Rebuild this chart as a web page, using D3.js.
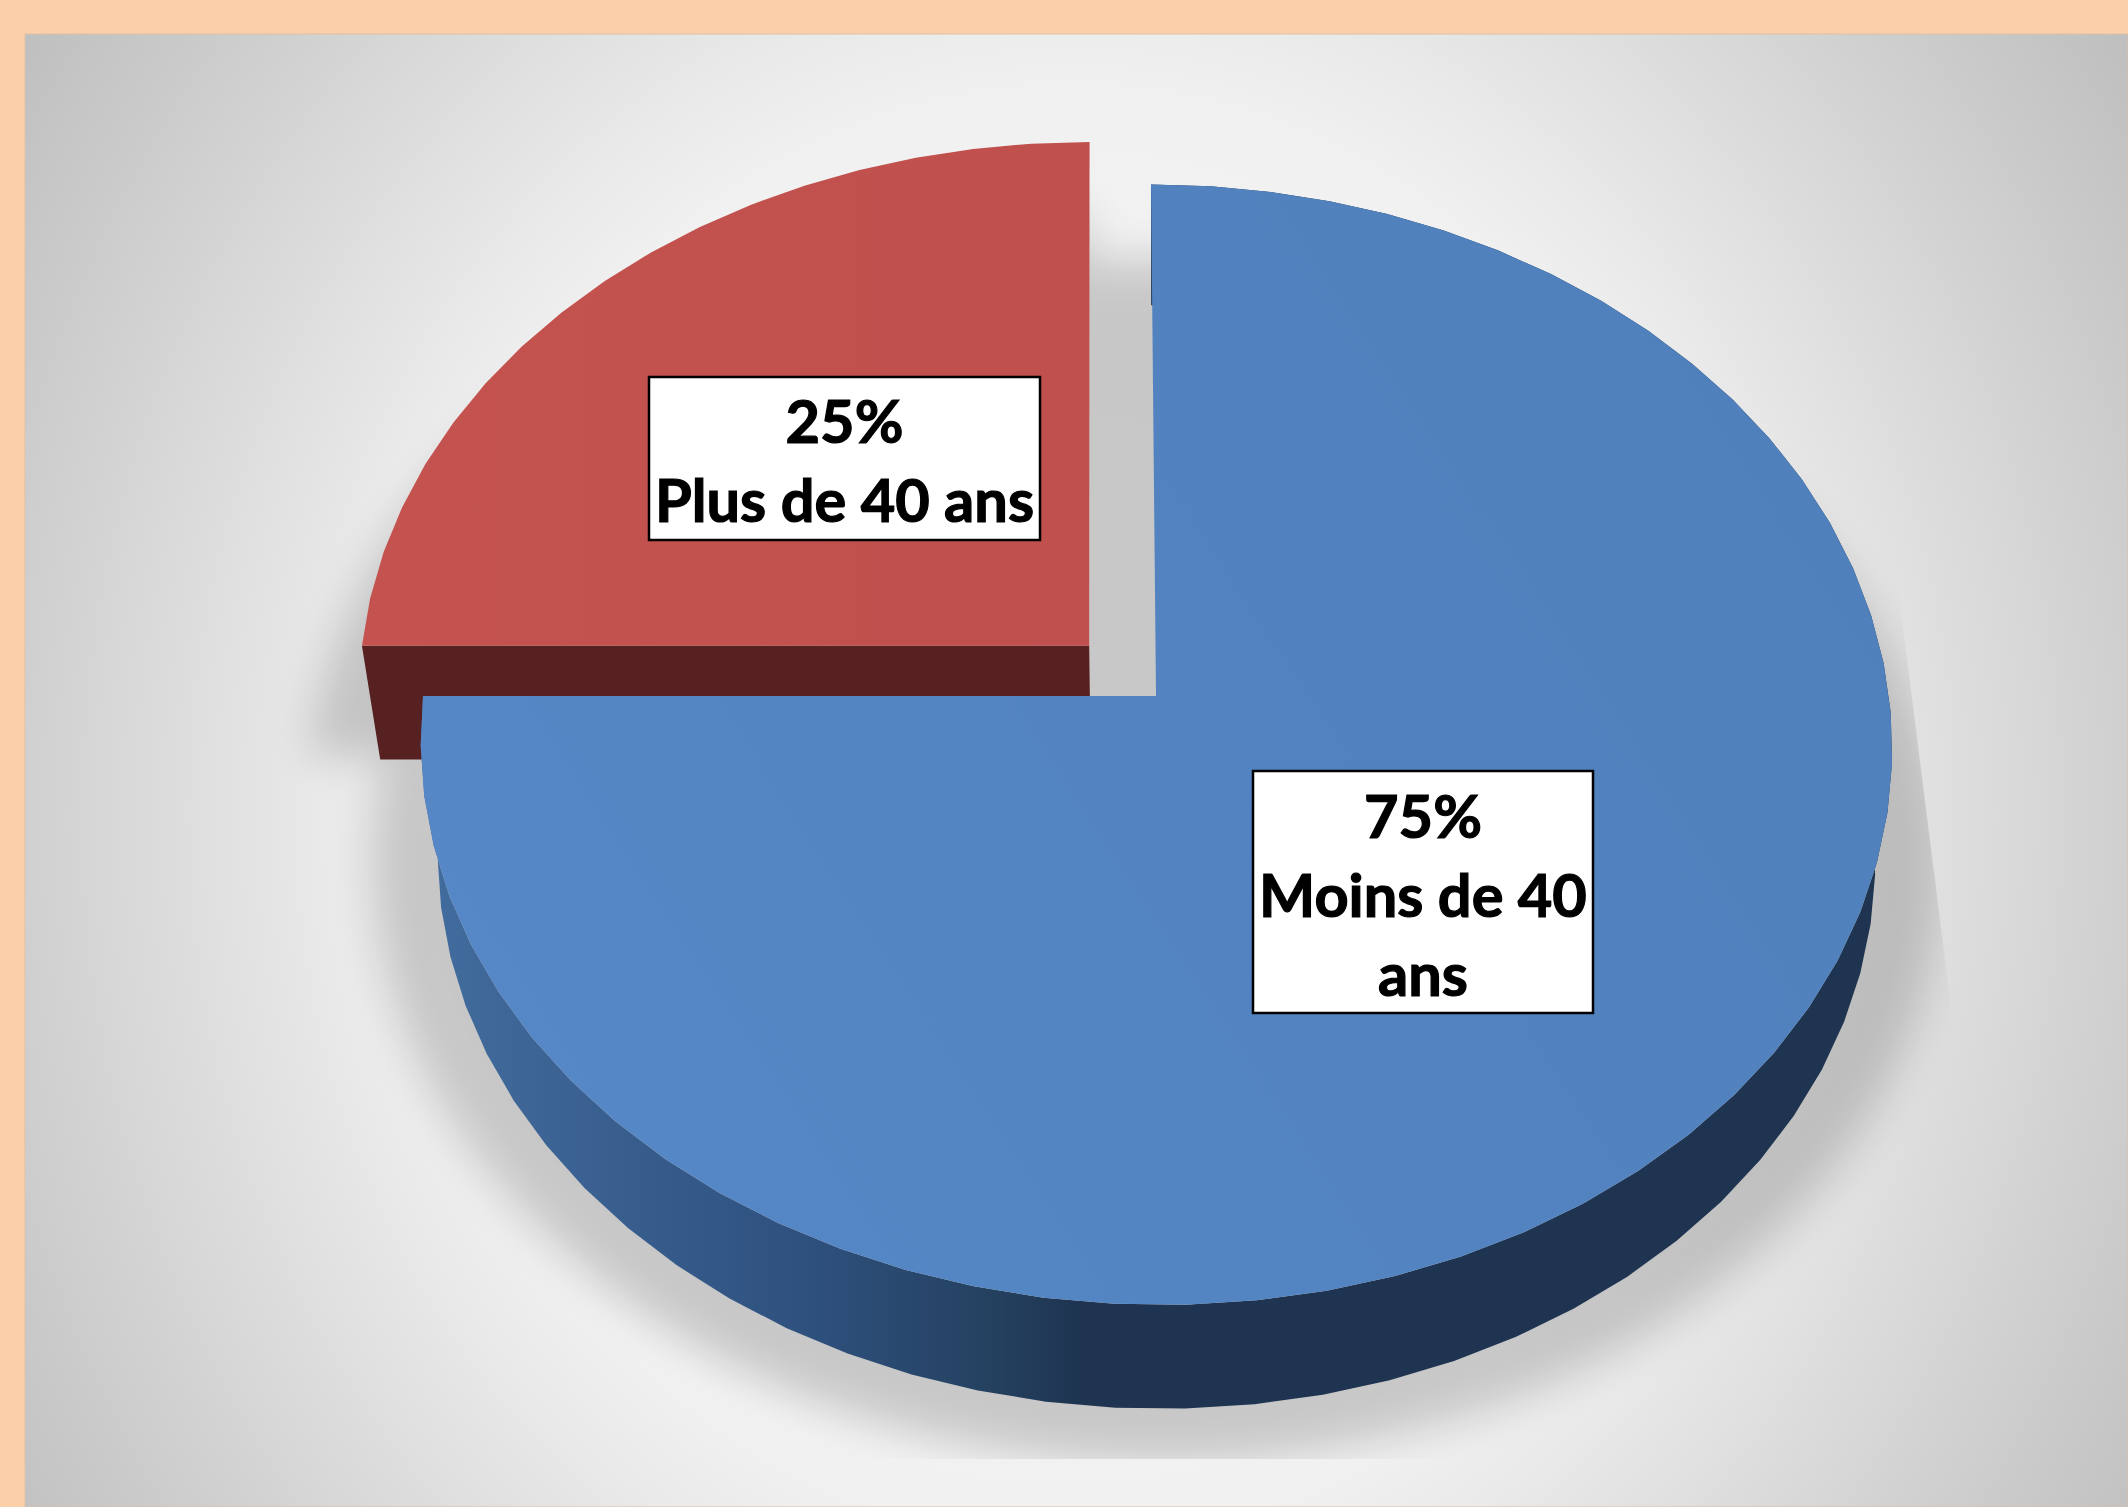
<!DOCTYPE html>
<html lang="fr">
<head>
  <meta charset="UTF-8">
  <style>
    html, body { margin: 0; padding: 0; background: #fccfab; }
    svg { display: block; }
    .label-box { fill: #fff; stroke: #000; stroke-width: 2.5; }
    .label-text {
      font-family: Lato, "Open Sans", sans-serif;
      font-weight: 700;
      font-size: 59.5px;
      fill: #000;
      stroke: #000;
      stroke-width: 1.2;
      text-anchor: middle;
    }
  </style>
</head>
<body>
  <svg id="chart" width="2128" height="1507"></svg>
  <script src="https://cdnjs.cloudflare.com/ajax/libs/d3/7.8.5/d3.min.js"></script>
  <script>
    // chart data
    const categories = ['Moins de 40 ans', 'Plus de 40 ans']
    const values = [75, 25]
    const labelLines = [
      ['75%', 'Moins de 40', 'ans'],
      ['25%', 'Plus de 40 ans'],
    ]

    // label boxes, one per category
    const labelBoxes = [
      { x: 1253, y: 771, w: 340, h: 242, first: 838 },
      { x: 649, y: 377, w: 391, h: 163, first: 443 },
    ]
    const lineStep = 79

    // 3d projection of the pie, unit disc -> screen
    const view = {
      cx: 1156, cy: 696, rx: 733, ry: 556,
      persp: 0.087, skew: 5.4,
      depthScaleX: 0.977, depthScaleY: 0.985, depthShift: 113,
      explode: 0.129,
    }
    const project = (u, v, lower, grow = 1) => {
      const w = 1 - view.persp * v
      const sx = (lower ? view.depthScaleX : 1) * grow
      const sy = (lower ? view.depthScaleY : 1) * grow
      return [
        view.cx + sx * (view.rx * u + view.skew * v) / w,
        view.cy + sy * view.ry * v / w + (lower ? view.depthShift : 0),
      ]
    }

    const svg = d3.select('#chart')
    const defs = svg.append('defs')

    const addGradient = (id, stops, attrs, type = 'linearGradient') => {
      const g = defs.append(type).attr('id', id)
      Object.entries(attrs).forEach(([k, v]) => g.attr(k, v))
      stops.forEach(([o, c]) => g.append('stop').attr('offset', o).attr('stop-color', c))
    }

    addGradient('bg', [[0, '#f2f2f2'], [0.48, '#f1f1f1'], [0.56, '#e9e9e9'], [0.64, '#e0e0e0'],
      [0.79, '#cfcfcf'], [0.94, '#bfbfbf'], [1, '#bcbcbc']],
      { gradientUnits: 'userSpaceOnUse', cx: 0, cy: 0, r: 1.1,
        gradientTransform: 'translate(1072,814) scale(1221,1357)' }, 'radialGradient')
    addGradient('blueTop', [[0, '#5687c6'], [1, '#4f80bb']], { x1: 0, x2: 1, y1: 0.7, y2: 0.2 })
    addGradient('redTop', [[0, '#c4534f'], [1, '#c0504d']], { x1: 0, x2: 1, y1: 0, y2: 0 })
    addGradient('blueWall', [[0, '#436d9f'], [0.25, '#2f5280'], [0.38, '#254262'], [0.45, '#1e3450'], [1, '#1e3450']],
      { x1: 0, x2: 1, y1: 0, y2: 0 })
    defs.append('filter').attr('id', 'blur')
      .attr('x', '-20%').attr('y', '-20%').attr('width', '140%').attr('height', '140%')
      .append('feGaussianBlur').attr('stdDeviation', 22)
    // the shadow picture has hard edges at the bottom and on the right
    defs.append('clipPath').attr('id', 'shadowClip')
      .append('polygon').attr('points', '0,0 1824,0 2008,1459 0,1459')

    // Draw Background
    // ===============
    svg.append('rect')
      .attr('x', 25).attr('y', 34).attr('width', 2103).attr('height', 1473)
      .attr('fill', 'url(#bg)').attr('stroke', '#dcbfa6').attr('stroke-width', 1)

    // Draw Pie
    // ========
    const pie = d3.pie().sort(null).value(d => d)
    const slices = pie(values).map((d, i) => {
      const mid = (d.startAngle + d.endAngle) / 2
      const isExploded = i === 1
      return {
        ...d,
        du: isExploded ? Math.sin(mid) * view.explode : 0,
        dv: isExploded ? -Math.cos(mid) * view.explode : 0,
      }
    })

    const line = d3.line()
    const step = Math.PI * 2 / 70
    const angles = d => {
      const n = Math.round((d.endAngle - d.startAngle) / step)
      return d3.range(n + 1).map(i => d.startAngle + (d.endAngle - d.startAngle) * i / n)
    }
    const rim = (d, lower, grow) => angles(d).map(a =>
      project(Math.sin(a) + d.du, -Math.cos(a) + d.dv, lower, grow))
    const apex = (d, lower, grow) => project(d.du, d.dv, lower, grow)
    const sector = (d, lower, grow) => line([apex(d, lower, grow), ...rim(d, lower, grow)]) + 'Z'

    // soft shadow under the pie: whole disc plus the pulled out slice
    const wholeDisc = { startAngle: 0, endAngle: Math.PI * 2, du: 0, dv: 0 }
    svg.append('g').attr('clip-path', 'url(#shadowClip)')
      .append('g').attr('filter', 'url(#blur)').attr('opacity', 0.17)
      .selectAll('path').data([wholeDisc, slices[1]]).enter().append('path')
      .attr('d', d => sector(d, true, 1.09))
      .attr('fill', '#000')

    // red slice: front cut face + top
    const red = slices[1]
    svg.append('path')
      .attr('d', line([
        rim(red, false)[0], apex(red, false), apex(red, true), rim(red, true)[0],
      ]) + 'Z')
      .attr('fill', '#562120')
    svg.append('path').attr('d', sector(red, false)).attr('fill', 'url(#redTop)')

    // blue slice: outer wall + top
    const blue = slices[0]
    svg.append('path')
      .attr('d', line([...rim(blue, false), ...rim(blue, true).reverse()]) + 'Z')
      .attr('fill', 'url(#blueWall)')
    svg.append('path').attr('d', sector(blue, false)).attr('fill', 'url(#blueTop)')

    // Draw Labels
    // ===========
    const labels = svg.selectAll('.label').data(categories).enter().append('g')
      .attr('class', 'label')
    labels.append('rect')
      .attr('class', 'label-box')
      .attr('x', (d, i) => labelBoxes[i].x)
      .attr('y', (d, i) => labelBoxes[i].y)
      .attr('width', (d, i) => labelBoxes[i].w)
      .attr('height', (d, i) => labelBoxes[i].h)
    labels.each(function(d, i) {
      const box = labelBoxes[i]
      d3.select(this).selectAll('text').data(labelLines[i]).enter().append('text')
        .attr('class', 'label-text')
        .attr('x', box.x + box.w / 2)
        .attr('y', (t, j) => box.first + j * lineStep)
        .text(t => t)
    })
  </script>
</body>
</html>
